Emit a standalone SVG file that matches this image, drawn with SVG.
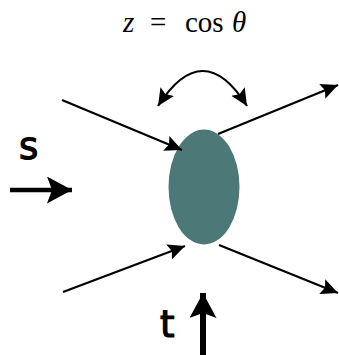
<svg xmlns="http://www.w3.org/2000/svg" width="339" height="355" viewBox="0 0 339 355">
<defs>
<marker id="ah" markerUnits="userSpaceOnUse" markerWidth="20" markerHeight="18" refX="17" refY="8" orient="auto-start-reverse">
<path d="M0,0 L17,8 L0,16 L3,8 Z" fill="#000"/>
</marker>
<marker id="ahb" markerUnits="userSpaceOnUse" markerWidth="28" markerHeight="28" refX="25" refY="13.5" orient="auto">
<path d="M0,0 L25,13.5 L0,27 L5,13.5 Z" fill="#000"/>
</marker>
</defs>
<style>
.thin{stroke:#000;stroke-width:2.2;fill:none;marker-end:url(#ah)}
.thick{stroke:#000;stroke-width:4.5;fill:none;marker-end:url(#ahb)}
.lbl{font-family:"DejaVu Sans",sans-serif;font-size:37px;fill:#000;stroke:#000;stroke-width:1.2}
.math{font-family:"Liberation Serif",serif;font-size:29px;fill:#000}
</style>
<text class="math" y="32"><tspan x="123" font-style="italic">z</tspan><tspan x="150">=</tspan><tspan x="185">cos</tspan><tspan x="232" font-style="italic">θ</tspan></text>
<g id="blob">
<ellipse cx="204" cy="187" rx="35.5" ry="57.5" fill="#4c7877"/>
</g>
<g id="connectors">
<line class="thin" x1="62" y1="100" x2="182" y2="150"/>
<line class="thin" x1="218" y1="134" x2="338" y2="85"/>
<line class="thin" x1="63" y1="292" x2="185" y2="246"/>
<line class="thin" x1="219" y1="245" x2="338" y2="293"/>
<path class="thin" d="M158,106 Q203,36 247,106" style="marker-start:url(#ah)"/>
<line class="thick" x1="10" y1="190" x2="72" y2="190"/>
<line class="thick" x1="203" y1="355" x2="203" y2="293" style="stroke-width:6"/>
</g>
<g id="label-s"><text class="lbl" x="19" y="159">s</text></g>
<g id="label-t"><text class="lbl" x="160" y="337">t</text></g>
</svg>
